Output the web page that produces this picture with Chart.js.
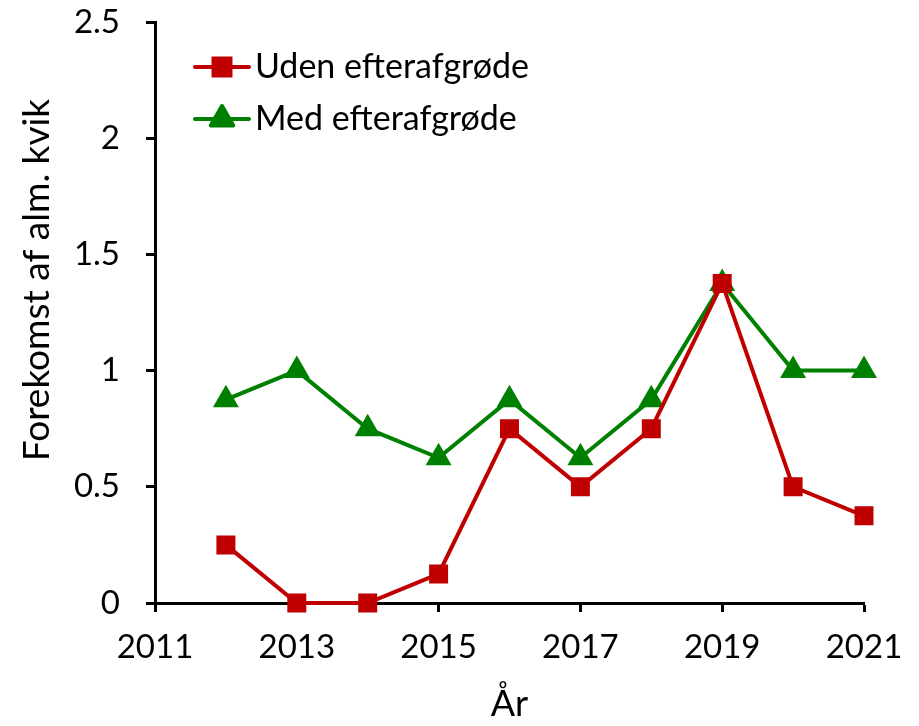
<!DOCTYPE html>
<html>
<head>
<meta charset="utf-8">
<script src="https://cdn.jsdelivr.net/npm/chart.js@4.4.0/dist/chart.umd.min.js"></script>
<style>
  html, body { margin: 0; padding: 0; background: #fff; }
  #wrap { width: 919px; height: 726px; }
</style>
</head>
<body>
<div id="wrap"><canvas id="kvikChart" width="919" height="726"></canvas></div>
<script>
const years = [2012, 2013, 2014, 2015, 2016, 2017, 2018, 2019, 2020, 2021];
const udenValues = [0.25, 0, 0, 0.125, 0.75, 0.5, 0.75, 1.375, 0.5, 0.375];
const medValues = [0.875, 1, 0.75, 0.625, 0.875, 0.625, 0.875, 1.375, 1, 1];
const seriesNames = ['Uden efterafgrøde', 'Med efterafgrøde'];
const yTitle = 'Forekomst af alm. kvik';

const FONT = 'Lato, "Open Sans", sans-serif';

// legend drawn inside the plot area, top-left
const insideLegend = {
    id: 'insideLegend',
    afterDraw(chart) {
        const ctx = chart.ctx;
        const area = chart.chartArea;
        ctx.save();
        chart.data.datasets.forEach((ds, i) => {
            const y = area.top + 45 + i * 52;
            const x0 = area.left + 40;
            ctx.strokeStyle = ds.borderColor;
            ctx.lineWidth = 4;
            ctx.lineCap = 'round';
            ctx.beginPath();
            ctx.moveTo(x0, y);
            ctx.lineTo(x0 + 54, y);
            ctx.stroke();
            Chart.helpers.drawPoint(ctx, {
                pointStyle: ds.pointStyle,
                radius: ds.pointRadius,
                rotation: 0,
                borderWidth: 2
            }, x0 + 27, y);
            ctx.fillStyle = ds.backgroundColor;
            ctx.fill();
            ctx.lineWidth = 2;
            ctx.lineJoin = 'round';
            ctx.stroke();
            ctx.fillStyle = '#000';
            ctx.font = '34px ' + FONT;
            ctx.textBaseline = 'middle';
            ctx.fillText(ds.label, x0 + 60, y);
        });
        ctx.restore();
    }
};

// y axis title, sits a bit above the plot centre like the original
const yTitlePlugin = {
    id: 'yTitlePlugin',
    afterDraw(chart) {
        const ctx = chart.ctx;
        ctx.save();
        ctx.translate(37, 280);
        ctx.rotate(-Math.PI / 2);
        ctx.fillStyle = '#000';
        ctx.font = '37px ' + FONT;
        ctx.textAlign = 'center';
        ctx.textBaseline = 'middle';
        ctx.fillText(yTitle, 0, 0);
        ctx.restore();
    }
};

const toPoints = vals => vals.map((v, i) => ({ x: years[i], y: v }));

new Chart(document.getElementById('kvikChart'), {
    type: 'line',
    data: {
        datasets: [{
            label: seriesNames[0],
            data: toPoints(udenValues),
            borderColor: '#C00000',
            backgroundColor: '#C00000',
            borderWidth: 4,
            pointStyle: 'rect',
            pointRadius: 12,
            pointBorderWidth: 2,
            tension: 0,
            clip: false
        }, {
            label: seriesNames[1],
            data: toPoints(medValues),
            borderColor: '#008000',
            backgroundColor: '#008000',
            borderWidth: 4,
            pointStyle: 'triangle',
            pointRadius: 13,
            pointBorderWidth: 2,
            tension: 0,
            clip: false
        }]
    },
    options: {
        responsive: false,
        animation: false,
        layout: { padding: { top: 22, right: 55, left: 0, bottom: 0 } },
        scales: {
            x: {
                type: 'linear',
                min: 2011,
                max: 2021,
                ticks: {
                    stepSize: 2,
                    color: '#000',
                    font: { size: 33, family: FONT },
                    padding: 16,
                    callback: v => String(v)
                },
                grid: { drawOnChartArea: false, tickLength: 9, tickWidth: 3, tickColor: '#000' },
                border: { display: true, color: '#000', width: 3 },
                title: { display: true, text: 'År', color: '#000', font: { size: 36, family: FONT }, padding: { top: 0, bottom: 0 } },
                afterFit(scale) {
                    scale.height = 123;
                    scale.paddingLeft = 0;
                    scale.paddingRight = 0;
                }
            },
            y: {
                min: 0,
                max: 2.5,
                ticks: {
                    stepSize: 0.5,
                    color: '#000',
                    font: { size: 33, family: FONT },
                    padding: 26,
                    callback: v => String(v)
                },
                grid: { drawOnChartArea: false, tickLength: 9, tickWidth: 3, tickColor: '#000' },
                border: { display: true, color: '#000', width: 3 },
                afterFit(scale) {
                    scale.width = 155;
                    scale.paddingTop = 0;
                    scale.paddingBottom = 0;
                }
            }
        },
        plugins: {
            legend: { display: false },
            tooltip: { enabled: false }
        }
    },
    plugins: [insideLegend, yTitlePlugin]
});
</script>
</body>
</html>
